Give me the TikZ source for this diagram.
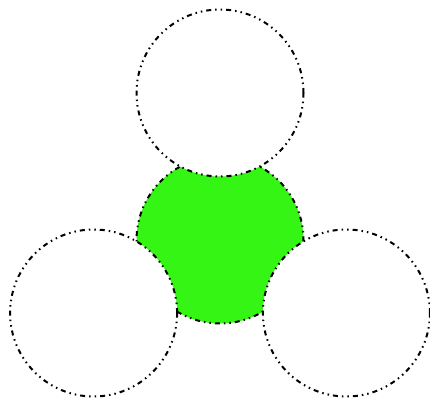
\documentclass[tikz,border=0pt]{standalone}
\definecolor{brightgreen}{RGB}{52,245,20}
\tikzset{
  outl/.style={draw=black, line width=2pt, dash pattern=on 5pt off 4pt on 1.5pt off 4pt on 1.5pt off 4pt},
}
\begin{document}
\begin{tikzpicture}[x=1pt,y=1pt]
\useasboundingbox (0,0) rectangle (430,404);
\def\R{83.5}
\coordinate (C) at (220,164);
\coordinate (T) at (220,311);
\coordinate (L) at (93.6,91);
\coordinate (Rr) at (346.4,91);
% green central region
\fill[brightgreen] (C) circle[radius=\R];
\fill[white] (T) circle[radius=\R];
\fill[white] (L) circle[radius=\R];
\fill[white] (Rr) circle[radius=\R];
% outer circles
\draw[outl] (T) circle[radius=\R];
\draw[outl] (L) circle[radius=\R];
\draw[outl] (Rr) circle[radius=\R];
% convex arcs of green region
\draw[outl] ([shift={(119:\R)}]C) arc[start angle=119, end angle=181, radius=\R];
\draw[outl] ([shift={(239:\R)}]C) arc[start angle=239, end angle=301, radius=\R];
\draw[outl] ([shift={(-1:\R)}]C) arc[start angle=-1, end angle=61, radius=\R];
\end{tikzpicture}
\end{document}
